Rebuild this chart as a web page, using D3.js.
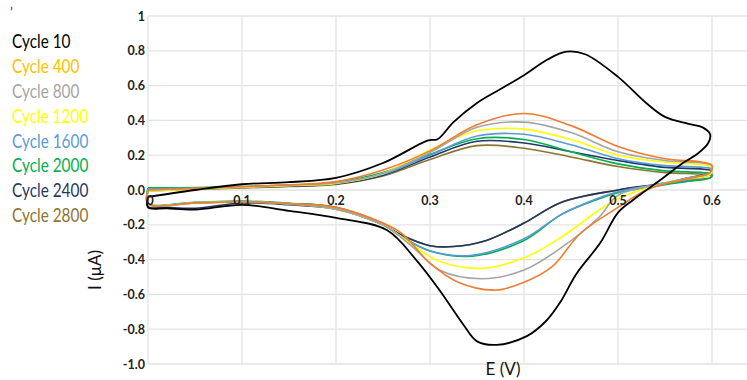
<!DOCTYPE html>
<html><head><meta charset="utf-8">
<script src="https://cdn.jsdelivr.net/npm/d3@7"></script>
<style>body{margin:0;background:#fff}svg{display:block}</style>
</head><body>
<svg id="c" width="747" height="380"></svg>
<script>
// ---- data ----
const legendLabels = ["Cycle 10","Cycle 400","Cycle 800","Cycle 1200","Cycle 1600","Cycle 2000","Cycle 2400","Cycle 2800"];
const xTicks = [0,0.1,0.2,0.3,0.4,0.5,0.6];
const xTickLabels = ["0","0.1","0.2","0.3","0.4","0.5","0.6"];
const yTicks = [1,0.8,0.6,0.4,0.2,0,-0.2,-0.4,-0.6,-0.8,-1];
const yTickLabels = ["1","0.8","0.6","0.4","0.2","0.0","-0.2","-0.4","-0.6","-0.8","-1.0"];

// each cycle: [E (V), I (uA)] forward (anodic) then reverse (cathodic)
const cycle10 = [[0,-0.04],[0.05,0.0],[0.1,0.033],[0.15,0.045],[0.2,0.07],[0.25,0.155],[0.298,0.285],[0.308,0.292],[0.325,0.39],[0.35,0.5],[0.375,0.58],[0.4,0.66],[0.425,0.75],[0.445,0.795],[0.465,0.78],[0.5,0.65],[0.53,0.5],[0.55,0.42],[0.575,0.38],[0.59,0.36],[0.598,0.32],[0.596,0.27],[0.585,0.21],[0.569,0.155],[0.545,0.057],[0.516,-0.057],[0.5,-0.13],[0.481,-0.305],[0.456,-0.48],[0.438,-0.65],[0.424,-0.75],[0.403,-0.84],[0.371,-0.89],[0.35,-0.87],[0.335,-0.77],[0.31,-0.575],[0.285,-0.4],[0.254,-0.23],[0.2,-0.16],[0.15,-0.12],[0.1,-0.085],[0.05,-0.112],[0.02,-0.105],[0,-0.1],[0,-0.04]];
const cycle400 = [[0,0.0],[0.05,0.01],[0.1,0.02],[0.15,0.03],[0.2,0.048],[0.25,0.115],[0.3,0.225],[0.35,0.375],[0.4,0.44],[0.45,0.37],[0.5,0.25],[0.55,0.18],[0.59,0.16],[0.6,0.14],[0.598,0.1],[0.58,0.07],[0.55,0.035],[0.53,0.0],[0.5,-0.1],[0.46,-0.25],[0.43,-0.44],[0.4,-0.53],[0.37,-0.575],[0.33,-0.53],[0.3,-0.42],[0.27,-0.25],[0.25,-0.19],[0.2,-0.1],[0.15,-0.078],[0.1,-0.068],[0.05,-0.074],[0,-0.08],[0,0.0]];
const cycle800 = [[0,0.0],[0.05,0.008],[0.1,0.018],[0.15,0.028],[0.2,0.04],[0.25,0.095],[0.3,0.215],[0.35,0.36],[0.4,0.39],[0.45,0.33],[0.5,0.22],[0.55,0.17],[0.59,0.155],[0.6,0.14],[0.598,0.1],[0.575,0.07],[0.55,0.04],[0.5,-0.03],[0.48,-0.155],[0.44,-0.33],[0.4,-0.46],[0.355,-0.51],[0.31,-0.46],[0.28,-0.32],[0.25,-0.2],[0.2,-0.11],[0.15,-0.08],[0.1,-0.07],[0.05,-0.075],[0,-0.08],[0,0.0]];
const cycle1200 = [[0,-0.005],[0.05,0.005],[0.1,0.015],[0.15,0.025],[0.2,0.038],[0.25,0.095],[0.3,0.23],[0.35,0.34],[0.4,0.35],[0.45,0.29],[0.5,0.2],[0.55,0.16],[0.59,0.145],[0.6,0.13],[0.598,0.09],[0.575,0.065],[0.55,0.04],[0.5,-0.05],[0.48,-0.115],[0.44,-0.27],[0.4,-0.39],[0.355,-0.45],[0.31,-0.41],[0.28,-0.31],[0.25,-0.2],[0.2,-0.11],[0.15,-0.08],[0.1,-0.068],[0.05,-0.074],[0,-0.08],[0,-0.005]];
const cycle1600 = [[0,0.005],[0.05,0.01],[0.1,0.018],[0.15,0.026],[0.2,0.04],[0.25,0.09],[0.3,0.2],[0.35,0.31],[0.4,0.32],[0.45,0.26],[0.5,0.18],[0.55,0.14],[0.59,0.13],[0.6,0.12],[0.598,0.09],[0.575,0.06],[0.55,0.04],[0.5,-0.01],[0.48,-0.045],[0.44,-0.14],[0.4,-0.28],[0.345,-0.375],[0.3,-0.35],[0.27,-0.27],[0.25,-0.2],[0.2,-0.105],[0.15,-0.078],[0.1,-0.066],[0.05,-0.072],[0,-0.078],[0,0.005]];
const cycle2000 = [[0,0.012],[0.05,0.014],[0.1,0.02],[0.15,0.028],[0.2,0.045],[0.25,0.1],[0.3,0.205],[0.35,0.295],[0.4,0.29],[0.45,0.22],[0.5,0.15],[0.55,0.11],[0.59,0.1],[0.6,0.09],[0.598,0.07],[0.575,0.05],[0.55,0.03],[0.5,-0.015],[0.48,-0.05],[0.44,-0.14],[0.4,-0.29],[0.345,-0.38],[0.3,-0.35],[0.27,-0.27],[0.25,-0.2],[0.2,-0.1],[0.15,-0.076],[0.1,-0.064],[0.05,-0.07],[0,-0.076],[0,0.012]];
const cycle2400 = [[0,0.0],[0.05,0.006],[0.1,0.014],[0.15,0.022],[0.2,0.035],[0.25,0.085],[0.3,0.19],[0.35,0.28],[0.4,0.27],[0.45,0.22],[0.5,0.17],[0.55,0.13],[0.59,0.12],[0.6,0.11],[0.598,0.1],[0.575,0.07],[0.55,0.04],[0.5,0.0],[0.44,-0.07],[0.4,-0.19],[0.36,-0.29],[0.325,-0.325],[0.3,-0.32],[0.27,-0.26],[0.25,-0.2],[0.2,-0.11],[0.15,-0.085],[0.1,-0.075],[0.05,-0.105],[0.02,-0.1],[0,-0.095],[0,0.0]];
const cycle2800 = [[0,-0.005],[0.05,0.004],[0.1,0.012],[0.15,0.02],[0.2,0.032],[0.25,0.08],[0.3,0.175],[0.35,0.255],[0.4,0.24],[0.45,0.19],[0.5,0.135],[0.55,0.1],[0.59,0.09],[0.6,0.08],[0.598,0.07],[0.575,0.055],[0.55,0.035],[0.5,0.0],[0.44,-0.07],[0.4,-0.19],[0.36,-0.29],[0.325,-0.325],[0.3,-0.32],[0.27,-0.26],[0.25,-0.2],[0.2,-0.1],[0.15,-0.078],[0.1,-0.068],[0.05,-0.074],[0,-0.08],[0,-0.005]];

const seriesData = [cycle10,cycle400,cycle800,cycle1200,cycle1600,cycle2000,cycle2400,cycle2800];

// ---- styles ----
const lineColors = ["#000000","#ED7D31","#A5A5A5","#FFFF00","#5B9BD5","#00B050","#1F3864","#8C7430"];
const legendColors = ["#000000","#FFC000","#A5A5A5","#FFFF00","#5B9BD5","#00B050","#1F3864","#8C7430"];

const svg = d3.select("#c");
const x = d3.scaleLinear().domain([0,0.1]).range([148,242]);
const y = d3.scaleLinear().domain([-1,1]).range([364,16]);
const xRight = 747;

// gridlines
const g = svg.append("g");
g.selectAll("line.h").data(yTicks).join("line")
  .attr("x1",x(0)).attr("x2",xRight).attr("y1",d=>y(d)).attr("y2",d=>y(d))
  .attr("stroke","#e3e3e3").attr("stroke-width",1.3);
g.selectAll("line.v").data(xTicks).join("line")
  .attr("x1",d=>x(d)).attr("x2",d=>x(d)).attr("y1",y(1)).attr("y2",y(-1))
  .attr("stroke","#e3e3e3").attr("stroke-width",1.3);

// tick labels
const tickFont = "Lato, 'Open Sans', sans-serif";
svg.append("g").selectAll("text").data(yTicks).join("text")
  .attr("x",145).attr("y",d=>y(d)+4.5).attr("text-anchor","end")
  .attr("font-family",tickFont).attr("font-weight","bold").attr("font-size",12.5)
  .attr("fill","#222").text((d,i)=>yTickLabels[i]);

// curves
const line = d3.line().x(d=>x(d[0])).y(d=>y(d[1])).curve(d3.curveCatmullRom.alpha(0.5));
const order = [7,6,5,4,3,2,1,0];
svg.append("g").selectAll("path").data(order).join("path")
  .attr("d",i=>line(seriesData[i]))
  .attr("fill","none").attr("stroke",i=>lineColors[i])
  .attr("stroke-width",i=>i===0?1.8:1.6).attr("stroke-linejoin","round");

svg.append("g").selectAll("text").data(xTicks).join("text")
  .attr("x",d=>x(d)+(d===0?2:0)).attr("y",y(0)+15).attr("text-anchor","middle")
  .attr("font-family",tickFont).attr("font-weight","bold").attr("font-size",12.5)
  .attr("fill","#222").text((d,i)=>xTickLabels[i]);

// legend
svg.append("g").attr("transform","translate(12,0) scale(0.83,1)")
  .selectAll("text").data(legendLabels).join("text")
  .attr("x",0).attr("y",(d,i)=>48+i*24.9)
  .attr("font-family","Lato, 'Open Sans', sans-serif").attr("font-size",18.5)
  .attr("fill",(d,i)=>legendColors[i]).text(d=>d);

// axis titles
svg.append("text").attr("transform","translate(101,270) rotate(-90)")
  .attr("text-anchor","middle").attr("font-family","Lato, 'Open Sans', sans-serif")
  .attr("font-size",17).attr("fill","#111").text("I (μA)");
svg.append("text").attr("x",503).attr("y",375).attr("text-anchor","middle")
  .attr("font-family","Lato, 'Open Sans', sans-serif")
  .attr("font-size",17).attr("fill","#111").text("E (V)");
svg.append("text").attr("x",10).attr("y",17).attr("font-family","Lato, sans-serif")
  .attr("font-size",13).attr("fill","#333").text("’");
</script>
</body></html>
